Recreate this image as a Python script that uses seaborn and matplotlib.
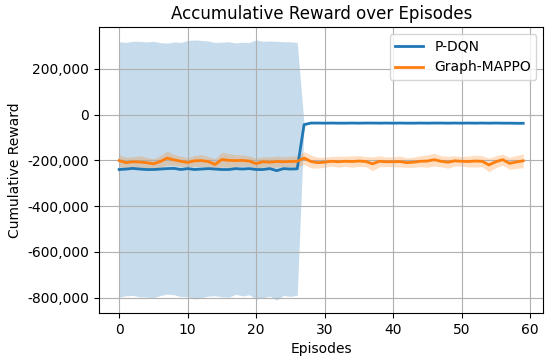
import numpy as np
import pandas as pd
import matplotlib
matplotlib.use("Agg")
import matplotlib.pyplot as plt
import matplotlib.ticker as mticker
import seaborn as sns

episodes = list(range(60))

pdqn_mean = [-240000, -238000, -235000, -238000, -240000, -240000, -238000, -236000, -235000, -240000,
             -236000, -240000, -238000, -236000, -238000, -240000, -240000, -236000, -238000, -236000,
             -240000, -240000, -236000, -245000, -236000, -238000, -237000, -44000, -37000, -37000,
             -37500, -37000, -37500, -37500, -37000, -37500, -37000, -37000, -37500, -37000,
             -37500, -37000, -37500, -37500, -37000, -37500, -37000, -37000, -37500, -37000,
             -37500, -37000, -37500, -37000, -37500, -37000, -37500, -37500, -38000, -38000]
pdqn_std = [558000, 553000, 555000, 558000, 557000, 560000, 552000, 548000, 552000, 555000,
            560000, 566000, 562000, 557000, 553000, 556000, 558000, 549000, 554000, 551000,
            566000, 560000, 557000, 565000, 554000, 556000, 552000, 3000, 1500, 1500,
            1500, 1500, 1500, 1500, 1500, 1500, 1500, 1500, 1500, 1500,
            1500, 1500, 1500, 1500, 1500, 1500, 1500, 1500, 1500, 1500,
            1500, 1500, 1500, 1500, 1500, 1500, 1500, 1500, 1500, 1500]

mappo_mean = [-201000, -210000, -206000, -207000, -210000, -215000, -205000, -190000, -198000, -204000,
              -209000, -202000, -201000, -205000, -218000, -196000, -200000, -201000, -200000, -203000,
              -214000, -206000, -208000, -205000, -206000, -205000, -204000, -190000, -205000, -210000,
              -208000, -204000, -206000, -204000, -205000, -203000, -205000, -215000, -204000, -206000,
              -206000, -205000, -210000, -208000, -204000, -203000, -197000, -204000, -208000, -202000,
              -204000, -205000, -203000, -204000, -220000, -206000, -197000, -213000, -207000, -202000]
mappo_std = [26000, 24000, 22000, 27000, 24000, 22000, 26000, 30000, 24000, 22000,
             21000, 24000, 26000, 22000, 25000, 32000, 30000, 26000, 24000, 22000,
             24000, 22000, 23000, 24000, 22000, 23000, 24000, 28000, 28000, 24000,
             22000, 21000, 24000, 22000, 25000, 24000, 22000, 30000, 24000, 21000,
             22000, 24000, 21000, 22000, 24000, 27000, 28000, 24000, 26000, 22000,
             21000, 24000, 26000, 24000, 30000, 26000, 24000, 26000, 28000, 30000]

series_names = ["P-DQN", "Graph-MAPPO"]

fig, ax = plt.subplots(figsize=(5.5, 3.59), dpi=100)

colors = ["#1f77b4", "#ff7f0e"]
for name, m, s, c in zip(series_names, [pdqn_mean, mappo_mean], [pdqn_std, mappo_std], colors):
    m = np.array(m, dtype=float)
    s = np.array(s, dtype=float)
    sns.lineplot(x=episodes, y=m, ax=ax, color=c, linewidth=2, label=name)
    ax.fill_between(episodes, m - s, m + s, color=c, alpha=0.25, linewidth=0)

ax.set_title("Accumulative Reward over Episodes", fontsize=12)
ax.set_xlabel("Episodes")
ax.set_ylabel("Cumulative Reward")
ax.yaxis.set_major_formatter(mticker.FuncFormatter(lambda v, p: f"{int(v):,}"))
ax.grid(True)
ax.legend(loc="upper right")
fig.subplots_adjust(left=0.18, right=0.988, top=0.925, bottom=0.128)
fig.savefig("out.png", dpi=100)
